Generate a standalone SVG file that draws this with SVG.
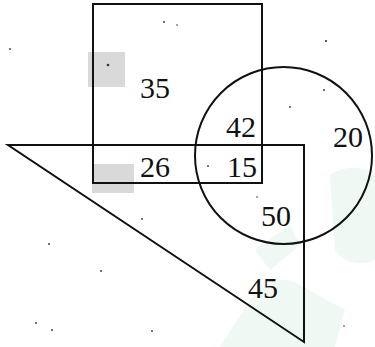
<svg xmlns="http://www.w3.org/2000/svg" width="375" height="347" viewBox="0 0 375 347">
<style>
.s{fill:none;stroke:#111;stroke-width:2}
.t{font-family:"Liberation Serif","Times New Roman",serif;font-size:30px;fill:#111;text-anchor:middle}
.g{fill:#d9d9d9}
.w{fill:#f0f8f3}
.d{fill:#333}
</style>
<rect width="375" height="347" fill="#fff"/>
<g id="watermark">
<path class="w" d="M330 175 Q355 160 375 175 L375 260 Q350 270 335 250 Z"/>
<path class="w" d="M220 347 L250 300 Q275 270 300 285 L345 310 L335 347 Z"/>
<path class="w" d="M255 250 L290 225 L300 245 L270 270 Z"/>
</g>
<g id="shades">
<rect class="g" x="88" y="52" width="37" height="35"/>
<rect class="g" x="92" y="164" width="42" height="29"/>
</g>
<g id="specks">
<circle class="d" cx="108" cy="65" r="1.3"/>
<circle class="d" cx="164" cy="22" r="0.9"/>
<circle class="d" cx="177" cy="25" r="0.8"/>
<circle class="d" cx="10" cy="49" r="0.9"/>
<circle class="d" cx="326" cy="41" r="1.1"/>
<circle class="d" cx="324" cy="90" r="0.9"/>
<circle class="d" cx="290" cy="107" r="0.9"/>
<circle class="d" cx="208" cy="166" r="0.9"/>
<circle class="d" cx="257" cy="197" r="0.8"/>
<circle class="d" cx="142" cy="219" r="0.9"/>
<circle class="d" cx="49" cy="244" r="0.9"/>
<circle class="d" cx="101" cy="271" r="0.9"/>
<circle class="d" cx="36" cy="323" r="0.9"/>
<circle class="d" cx="52" cy="330" r="0.9"/>
<circle class="d" cx="152" cy="331" r="0.9"/>
<circle class="d" cx="344" cy="326" r="0.8"/>
</g>
<g id="shapes">
<g id="rectangle"><rect class="s" x="93" y="4" width="169" height="179"/></g>
<g id="triangle"><path class="s" d="M8 145 L304 145 L304 342 Z"/></g>
<g id="circle"><circle class="s" cx="283.5" cy="155.5" r="88.5"/></g>
</g>
<g id="labels">
<text class="t" x="155" y="98">35</text>
<text class="t" x="241" y="137">42</text>
<text class="t" x="348" y="147">20</text>
<text class="t" x="155" y="177">26</text>
<text class="t" x="242" y="177">15</text>
<text class="t" x="276" y="226">50</text>
<text class="t" x="263" y="298">45</text>
</g>
</svg>
